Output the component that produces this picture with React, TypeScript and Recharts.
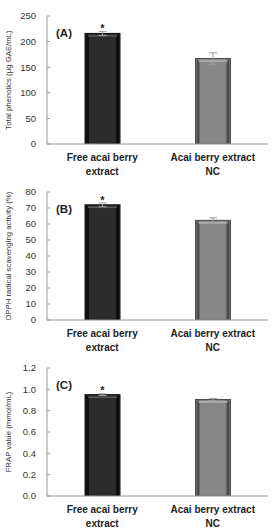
import { Bar, BarChart, ErrorBar, LabelList, XAxis, YAxis } from "recharts";

const groups = ["Free acai berry|extract", "Acai berry extract|NC"];
const stars = ["*", ""];

const phenolics = [216, 167];
const phenolicsErr = [4, 11];
const dpph = [72, 62.3];
const dpphErr = [1.2, 1.6];
const frap = [0.95, 0.905];
const frapErr = [0.008, 0.01];

const ticksA = [0, 50, 100, 150, 200, 250];
const ticksB = [0, 10, 20, 30, 40, 50, 60, 70, 80];
const ticksC = [0, 0.2, 0.4, 0.6, 0.8, 1.0, 1.2];

const FILLS = [
  { fill: "#2c2c2c", edge: "#0e0e0e", hi: "#5a5a5a" },
  { fill: "#878787", edge: "#4c4c4c", hi: "#b4b4b4" },
];

const FONT = "Arial, 'Liberation Sans', Helvetica, sans-serif";

function BarShape(props: any) {
  const { x, y, width, height, index } = props;
  const c = FILLS[index] ?? FILLS[0];
  if (!height || height <= 0) return null;
  return (
    <g>
      <rect x={x} y={y} width={width} height={height} fill={c.fill} stroke={c.edge} strokeWidth={1} />
      <rect x={x + 1} y={y + 1} width={3} height={height - 1} fill={c.edge} />
      <rect x={x + width - 4} y={y + 1} width={3} height={height - 1} fill={c.edge} />
      <line x1={x + 3} x2={x + width - 3} y1={y + 2.5} y2={y + 2.5} stroke={c.hi} strokeWidth={1.5} />
    </g>
  );
}

function CatTick(props: any) {
  const { x, y, payload } = props;
  const [l1, l2] = String(payload.value).split("|");
  return (
    <text x={x} y={y} textAnchor="middle" fontFamily={FONT} fontSize={10} fontWeight="bold" fill="#222">
      <tspan x={x} dy={9}>{l1}</tspan>
      <tspan x={x} dy={14}>{l2}</tspan>
    </text>
  );
}

function SideLabel(text: string) {
  return (props: any) => {
    const vb = props.viewBox;
    const cx = vb.x + 8;
    const cy = vb.y + vb.height / 2;
    return (
      <text
        x={cx}
        y={cy}
        transform={`rotate(-90 ${cx} ${cy})`}
        textAnchor="middle"
        dominantBaseline="central"
        fontFamily={FONT}
        fontSize={7.8}
        fill="#333"
      >
        {text}
      </text>
    );
  };
}

function Star(props: any) {
  const { x, y, width, value } = props;
  if (!value) return null;
  return (
    <text x={x + width / 2} y={y - 1} textAnchor="middle" fontFamily={FONT} fontSize={11} fontWeight="bold" fill="#222">
      {value}
    </text>
  );
}

function Panel({
  tag,
  values,
  errs,
  ticks,
  max,
  title,
  fmt,
}: {
  tag: string;
  values: number[];
  errs: number[];
  ticks: number[];
  max: number;
  title: string;
  fmt: (v: number) => string;
}) {
  const data = groups.map((g, i) => ({ g, v: values[i], e: errs[i], s: stars[i] }));
  return (
    <div style={{ position: "relative", width: 272, height: 176 }}>
      <BarChart
        width={272}
        height={176}
        data={data}
        margin={{ top: 16, right: 4, bottom: 0, left: 0 }}
        style={{ overflow: "visible" }}
      >
        <XAxis
          dataKey="g"
          height={32}
          tick={<CatTick />}
          tickLine={false}
          axisLine={{ stroke: "#999" }}
          interval={0}
        />
        <XAxis xAxisId="top" orientation="top" dataKey="g" height={0} tick={false} tickLine={false} axisLine={{ stroke: "#999" }} />
        <YAxis
          width={47}
          domain={[0, max]}
          ticks={ticks}
          tickFormatter={fmt}
          tickSize={-3}
          tickMargin={14}
          tickLine={{ stroke: "#999" }}
          axisLine={{ stroke: "#999" }}
          tick={{ fill: "#333", fontSize: 9.5, fontFamily: FONT }}
          label={SideLabel(title)}
          allowDataOverflow
        />
        <YAxis yAxisId="right" orientation="right" width={0} domain={[0, max]} tick={false} tickLine={false} axisLine={{ stroke: "#999" }} />
        <Bar dataKey="v" barSize={35} shape={<BarShape />} isAnimationActive={false}>
          <ErrorBar dataKey="e" width={4} stroke="#a0a0a0" strokeWidth={1} />
          <LabelList dataKey="s" content={<Star />} />
        </Bar>
      </BarChart>
      <div
        style={{
          position: "absolute",
          left: 56,
          top: 26,
          fontFamily: FONT,
          fontSize: 11.5,
          fontWeight: "bold",
          color: "#222",
          lineHeight: "14px",
        }}
      >
        {tag}
      </div>
    </div>
  );
}

export default function App() {
  return (
    <div style={{ position: "absolute", left: 0, top: 0, width: 272, height: 528, background: "#fff" }}>
      <Panel
        tag="(A)"
        values={phenolics}
        errs={phenolicsErr}
        ticks={ticksA}
        max={250}
        title="Total phenolics (μg GAE/mL)"
        fmt={(v) => String(v)}
      />
      <Panel
        tag="(B)"
        values={dpph}
        errs={dpphErr}
        ticks={ticksB}
        max={80}
        title="DPPH radical scavenging activity (%)"
        fmt={(v) => String(v)}
      />
      <Panel
        tag="(C)"
        values={frap}
        errs={frapErr}
        ticks={ticksC}
        max={1.2}
        title="FRAP value  (mmol/mL)"
        fmt={(v) => v.toFixed(1)}
      />
    </div>
  );
}
